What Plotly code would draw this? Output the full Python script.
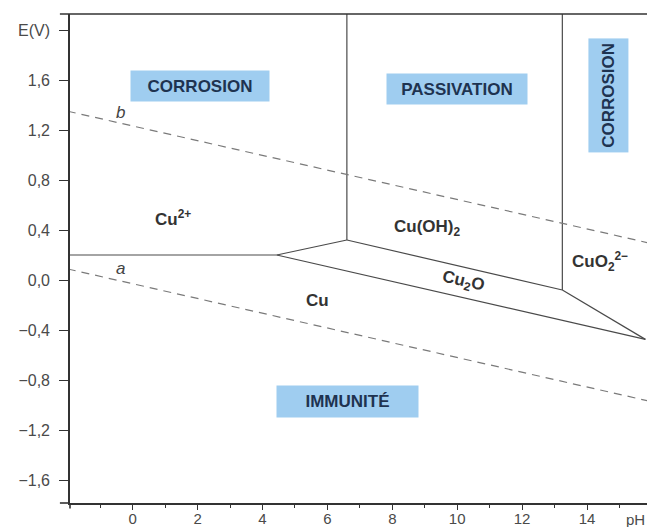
import plotly.graph_objects as go

# Pourbaix diagram of copper (E vs pH)
# Boundary lines between stability domains: (pH list, E list)
cu2_cu_ph, cu2_cu_e = [-2.0, 4.44], [0.20, 0.20]
cu2_cu2o_ph, cu2_cu2o_e = [4.44, 6.6], [0.20, 0.32]
cu2o_cu_ph, cu2o_cu_e = [4.44, 15.8], [0.20, -0.475]
cu2_cuoh2_ph, cu2_cuoh2_e = [6.6, 6.6], [0.32, 2.3]
cuoh2_cu2o_ph, cuoh2_cu2o_e = [6.6, 13.24], [0.32, -0.08]
cuoh2_cuo2_ph, cuoh2_cuo2_e = [13.24, 13.24], [-0.08, 2.3]
cuo2_cu2o_ph, cuo2_cu2o_e = [13.24, 15.8], [-0.08, -0.475]

# Water stability lines a (H2 evolution) and b (O2 evolution)
water_ph = [-2.0, 16.0]
line_a_e = [0.088, -0.974]
line_b_e = [1.35, 0.291]

# Axis ticks
x_ticks = [0, 2, 4, 6, 8, 10, 12, 14]
y_ticks = [2.0, 1.6, 1.2, 0.8, 0.4, 0.0, -0.4, -0.8, -1.2, -1.6]
y_ticktext = ["E(V)", "1,6", "1,2", "0,8", "0,4", "0,0", "\u22120,4", "\u22120,8", "\u22121,2", "\u22121,6"]

X_RANGE = [-1.932, 15.849]
Y_RANGE = [-1.784, 2.128]

FONT = "Liberation Sans, Arial, sans-serif"
LINE_COLOR = "#4a4a4a"
AXIS_COLOR = "#333333"

fig = go.Figure()

boundaries = [
    (cu2_cu_ph, cu2_cu_e),
    (cu2_cu2o_ph, cu2_cu2o_e),
    (cu2o_cu_ph, cu2o_cu_e),
    (cu2_cuoh2_ph, cu2_cuoh2_e),
    (cuoh2_cu2o_ph, cuoh2_cu2o_e),
    (cuoh2_cuo2_ph, cuoh2_cuo2_e),
    (cuo2_cu2o_ph, cuo2_cu2o_e),
]
for ph, e in boundaries:
    fig.add_trace(go.Scatter(x=ph, y=e, mode="lines",
                             line=dict(color=LINE_COLOR, width=1.2),
                             hoverinfo="skip", showlegend=False))

for e in (line_a_e, line_b_e):
    fig.add_trace(go.Scatter(x=water_ph, y=e, mode="lines",
                             line=dict(color="#7a7a7a", width=1.2, dash="8px,6px"),
                             hoverinfo="skip", showlegend=False))

# Domain name boxes
box_color = "#9fcdf0"
box_font = dict(family=FONT, size=17, color="#1e3350")
boxes = [
    ("<b>CORROSION</b>", 2.07, 1.55, 0, 138, 30),
    ("<b>PASSIVATION</b>", 9.98, 1.53, 0, 140, 30),
    ("<b>CORROSION</b>", 14.66, 1.476, -90, 113, 39),
    ("<b>IMMUNITÉ</b>", 6.61, -0.97, 0, 141, 31),
]
for text, x, y, ang, w, h in boxes:
    fig.add_annotation(x=x, y=y, xref="x", yref="y", text=text, showarrow=False,
                       textangle=ang, width=w, height=h, bgcolor=box_color,
                       borderpad=0, font=box_font, align="center", valign="middle")

# Species labels
sp_font = dict(family=FONT, size=17, color="#333333")
species = [
    ("<b>Cu<sup>2+</sup></b>", 1.24, 0.50, 0),
    ("<b>Cu(OH)<sub>2</sub></b>", 9.07, 0.42, 0),
    ("<b>Cu<sub>2</sub>O</b>", 10.18, -0.015, 13),
    ("<b>Cu</b>", 5.71, -0.16, 0),
    ("<b>CuO<sub>2</sub><sup>2\u2212</sup></b>", 14.4, 0.145, 0),
]
for text, x, y, ang in species:
    fig.add_annotation(x=x, y=y, text=text, showarrow=False, textangle=ang, font=sp_font)

for text, x, y in [("<i>a</i>", -0.39, 0.09), ("<i>b</i>", -0.39, 1.34)]:
    fig.add_annotation(x=x, y=y, text=text, showarrow=False,
                       font=dict(family=FONT, size=17, color="#444444"))

# pH axis title at the right end of the x axis
fig.add_annotation(x=15.14, y=0, xref="x", yref="paper", text="pH", showarrow=False,
                   xanchor="left", yanchor="top", yshift=-6,
                   font=dict(family=FONT, size=15, color="#4a4a4a"))

# Top frame line and small overhangs where axes meet
fig.add_shape(type="line", xref="paper", yref="paper", x0=-0.0175, x1=1.0, y0=1, y1=1,
              line=dict(color=AXIS_COLOR, width=1.6))
fig.add_shape(type="line", xref="paper", yref="paper", x0=-0.0175, x1=0, y0=0, y1=0,
              line=dict(color=AXIS_COLOR, width=1.6))
fig.add_shape(type="line", xref="paper", yref="paper", x0=0, x1=0, y0=-0.011, y1=0,
              line=dict(color=AXIS_COLOR, width=1.6))

fig.update_xaxes(range=X_RANGE, tickvals=x_ticks, showline=True, linecolor=AXIS_COLOR,
                 linewidth=1.6, ticks="outside", ticklen=5, tickwidth=1.3, tickcolor=AXIS_COLOR,
                 showgrid=False, zeroline=False, ticklabelstandoff=-4, automargin=False,
                 tickfont=dict(family=FONT, size=15, color="#4a4a4a"),
                 minor=dict(tickvals=[-1, 1, 3, 5, 7, 9, 11, 13, 15], ticks="outside",
                            ticklen=3, tickwidth=1.3, tickcolor=AXIS_COLOR))
fig.update_yaxes(range=Y_RANGE, tickvals=y_ticks, ticktext=y_ticktext, showline=True,
                 linecolor=AXIS_COLOR, linewidth=1.6, ticks="outside", ticklen=9,
                 tickwidth=1.3, tickcolor=AXIS_COLOR, showgrid=False, zeroline=False,
                 ticklabelstandoff=6, automargin=False,
                 tickfont=dict(family=FONT, size=16, color="#4a4a4a"))

fig.update_layout(width=647, height=527, margin=dict(l=70, r=0, t=14, b=24),
                  plot_bgcolor="white", paper_bgcolor="white", showlegend=False)

fig.write_html("out.html")
